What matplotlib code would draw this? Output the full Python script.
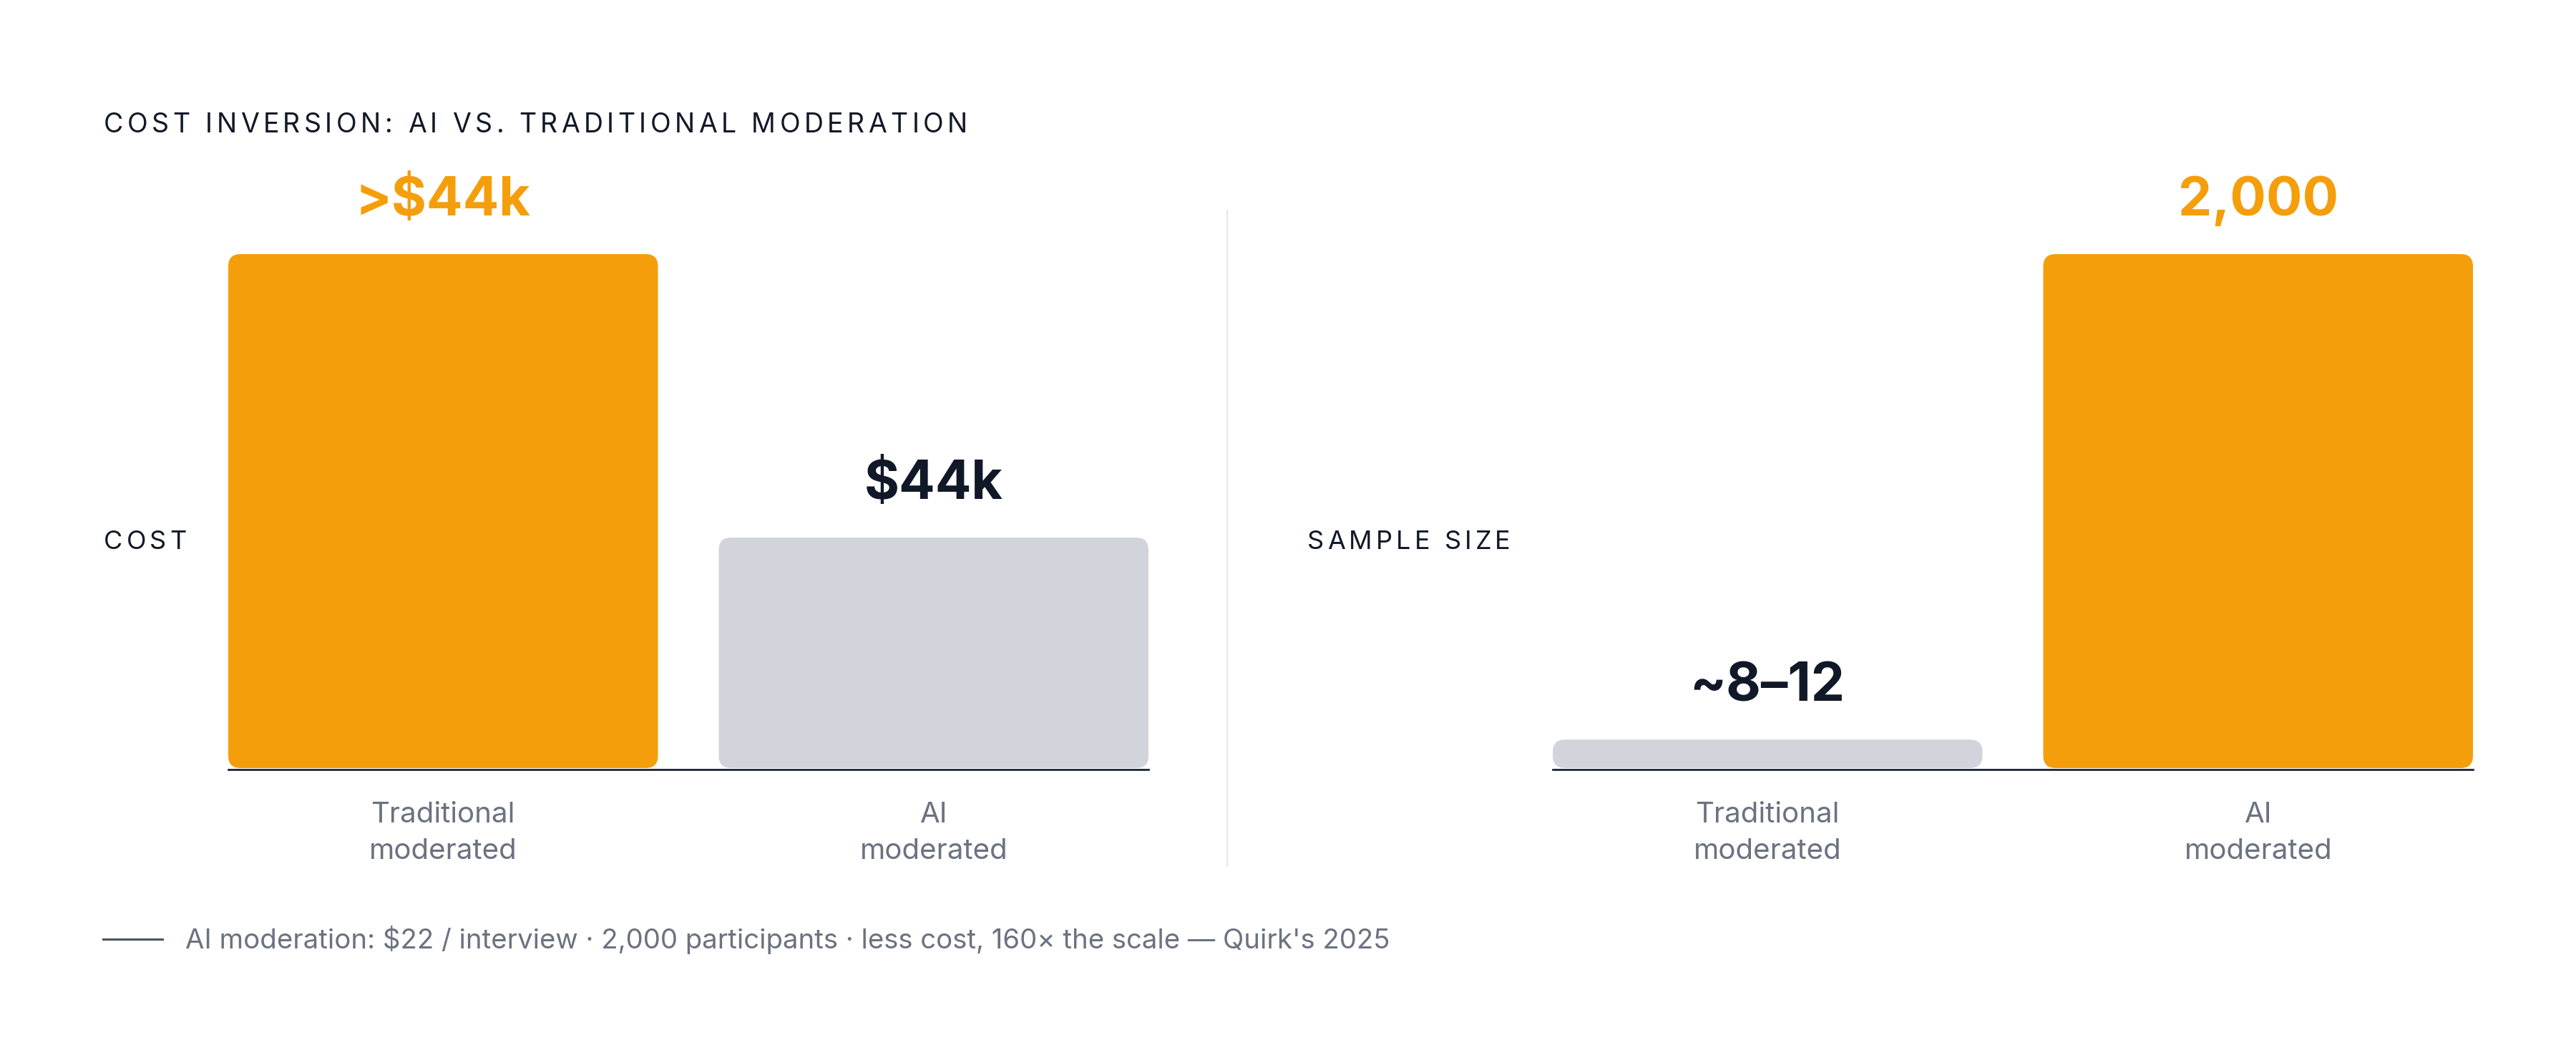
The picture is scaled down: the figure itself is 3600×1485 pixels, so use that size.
import matplotlib
matplotlib.use("Agg")
import matplotlib.pyplot as plt
from matplotlib.patches import FancyBboxPatch
from matplotlib.lines import Line2D
from matplotlib.font_manager import FontProperties, findfont
from matplotlib.ft2font import FT2Font

# ---------------------------------------------------------------- data
categories = ["Traditional\nmoderated", "AI\nmoderated"]

cost_labels = [">$44k", "$44k"]
cost_heights = [100, 45]          # relative bar heights as drawn

sample_labels = ["~8–12", "2,000"]
sample_heights = [5.8, 100]

title = "COST INVERSION: AI VS. TRADITIONAL MODERATION"
footnote = "AI moderation: $22 / interview · 2,000 participants · less cost, 160× the scale — Quirk's 2025"

# ---------------------------------------------------------------- style
ORANGE = "#F59E0B"
GRAY_BAR = "#D1D5DB"
DARK = "#111827"
MUTED = "#6B7280"
DIVIDER = "#E5E7EB"

W, H, DPI = 3600, 1485, 100
plt.rcParams["font.family"] = ["Inter", "DejaVu Sans"]

fig = plt.figure(figsize=(W / DPI, H / DPI), dpi=DPI)
fig.patch.set_facecolor("white")


def fx(px):
    return px / W


def fy(py):
    return 1 - py / H


def spaced_text(x_px, y_px, s, size, tracking, color):
    # letter-spaced text, one glyph at a time
    fp = FontProperties(family="Inter", size=size)
    font = FT2Font(findfont(fp))
    font.set_size(size, DPI)
    x = x_px
    for ch in s:
        fig.text(fx(x), fy(y_px), ch, fontproperties=fp, color=color,
                 ha="left", va="baseline")
        g = font.load_char(ord(ch))
        x += g.linearHoriAdvance / 65536 + tracking * size * DPI / 72


def bar_panel(left_px, right_px, heights, labels, colors, label_colors):
    base_px = 1075
    ax = fig.add_axes([fx(left_px), fy(base_px), fx(right_px - left_px), 720 / H])
    w = 0.876
    x = list(range(len(heights)))
    ax.set_xlim(-w / 2, len(heights) - 1 + w / 2)
    ax.set_ylim(0, 100)
    ax.axis("off")

    # y-units per pixel / x-units per pixel, so the corners stay circular
    x_per_px = (len(heights) - 1 + w) / (right_px - left_px)
    y_per_px = 100 / 720
    aspect = y_per_px / x_per_px
    radius = 17 * x_per_px

    bars = ax.bar(x, heights, width=w, color=colors)
    for rect, c in zip(bars, colors):
        rect.set_visible(False)
        ax.add_patch(FancyBboxPatch(
            (rect.get_x(), rect.get_y() + 2 * y_per_px), rect.get_width(),
            rect.get_height() - 2 * y_per_px,
            boxstyle=f"round,pad=0,rounding_size={radius}",
            mutation_aspect=aspect, facecolor=c, edgecolor="none", zorder=2))

    ax.axhline(0, color=DARK, lw=1.9, zorder=3, clip_on=False)

    for xi, h, lab, lc in zip(x, heights, labels, label_colors):
        ax.annotate(lab, xy=(xi, h), xytext=(0, 54 * 0.72), textcoords="offset points",
                    ha="center", va="baseline", fontsize=54, fontweight="bold",
                    color=lc, annotation_clip=False)

    for xi, cat in zip(x, categories):
        for k, line in enumerate(cat.split("\n")):
            ax.annotate(line, xy=(xi, 0), xytext=(0, -(74 + 51 * k) * 0.72),
                        textcoords="offset points", ha="center", va="baseline",
                        fontsize=29, color=MUTED, annotation_clip=False)
    return ax


# ---------------------------------------------------------------- panels
bar_panel(319, 1605, cost_heights, cost_labels,
          [ORANGE, GRAY_BAR], [ORANGE, DARK])
bar_panel(2170, 3456, sample_heights, sample_labels,
          [GRAY_BAR, ORANGE], [DARK, ORANGE])

spaced_text(145, 185, title, 27, 0.144, DARK)
spaced_text(145, 767, "COST", 26, 0.14, DARK)
spaced_text(1827, 767, "SAMPLE SIZE", 26, 0.14, DARK)

# divider between the two panels
fig.add_artist(Line2D([fx(1715), fx(1715)], [fy(294), fy(1210)],
                      color=DIVIDER, lw=1.5))

# footnote
fig.add_artist(Line2D([fx(144), fx(227)], [fy(1312), fy(1312)], color="#4B5563", lw=2.2))
fig.text(fx(259), fy(1325), footnote, fontsize=27.6, color=MUTED, ha="left", va="baseline")

fig.savefig("out.png", dpi=DPI, facecolor="white")
